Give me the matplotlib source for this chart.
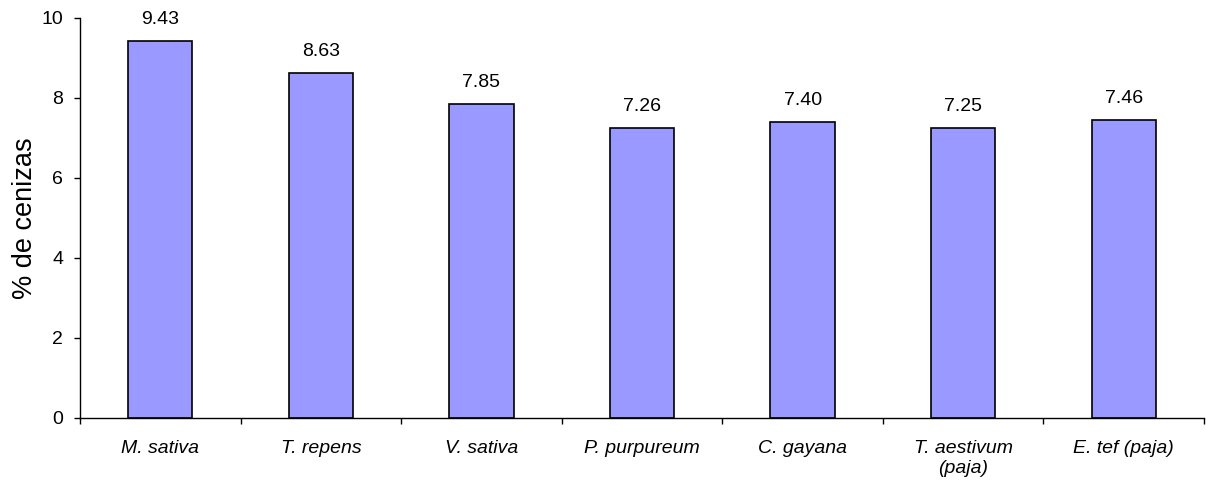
import matplotlib
matplotlib.use("Agg")
import matplotlib.pyplot as plt

plt.rcParams['font.family'] = ['Liberation Sans', 'DejaVu Sans']

categories = ["M. sativa", "T. repens", "V. sativa", "P. purpureum",
              "C. gayana", "T. aestivum\n(paja)", "E. tef (paja)"]
values = [9.43, 8.63, 7.85, 7.26, 7.40, 7.25, 7.46]
labels = ["9.43", "8.63", "7.85", "7.26", "7.40", "7.25", "7.46"]
yticks = [0, 2, 4, 6, 8, 10]

fig = plt.figure(figsize=(12.06, 4.87), dpi=100)
ax = fig.add_axes([80/1206, 69/487, 1124/1206, 400/487])

x = list(range(len(categories)))
bars = ax.bar(x, values, width=0.40, color='#9999FF', edgecolor='black', linewidth=1.2)

for xi, v, lab in zip(x, values, labels):
    ax.annotate(lab, (xi, v), xytext=(0, 12), textcoords='offset points',
                ha='center', va='baseline', fontsize=14)

ax.set_xlim(-0.5, len(categories) - 0.5)
ax.set_ylim(0, 10)
ax.set_yticks(yticks)
ax.set_yticklabels([str(t) for t in yticks], fontsize=14)
ax.set_xticks([i - 0.5 for i in range(len(categories) + 1)])
ax.set_xticklabels([])
ax.set_xticks(x, minor=True)
ax.set_xticklabels(categories, minor=True, fontsize=14, style='italic', linespacing=1.22)
ax.tick_params(axis='x', which='minor', length=0, pad=16)
ax.tick_params(axis='x', which='major', direction='out', length=4.5, width=1)
ax.tick_params(axis='y', direction='out', length=4.5, width=1, pad=7.5)
for s in ['top', 'right']:
    ax.spines[s].set_visible(False)
ax.spines['left'].set_linewidth(1)
ax.spines['bottom'].set_linewidth(1)
ax.set_ylabel('% de cenizas', fontsize=19.5, labelpad=2.5)

fig.savefig('out.png', dpi=100)
